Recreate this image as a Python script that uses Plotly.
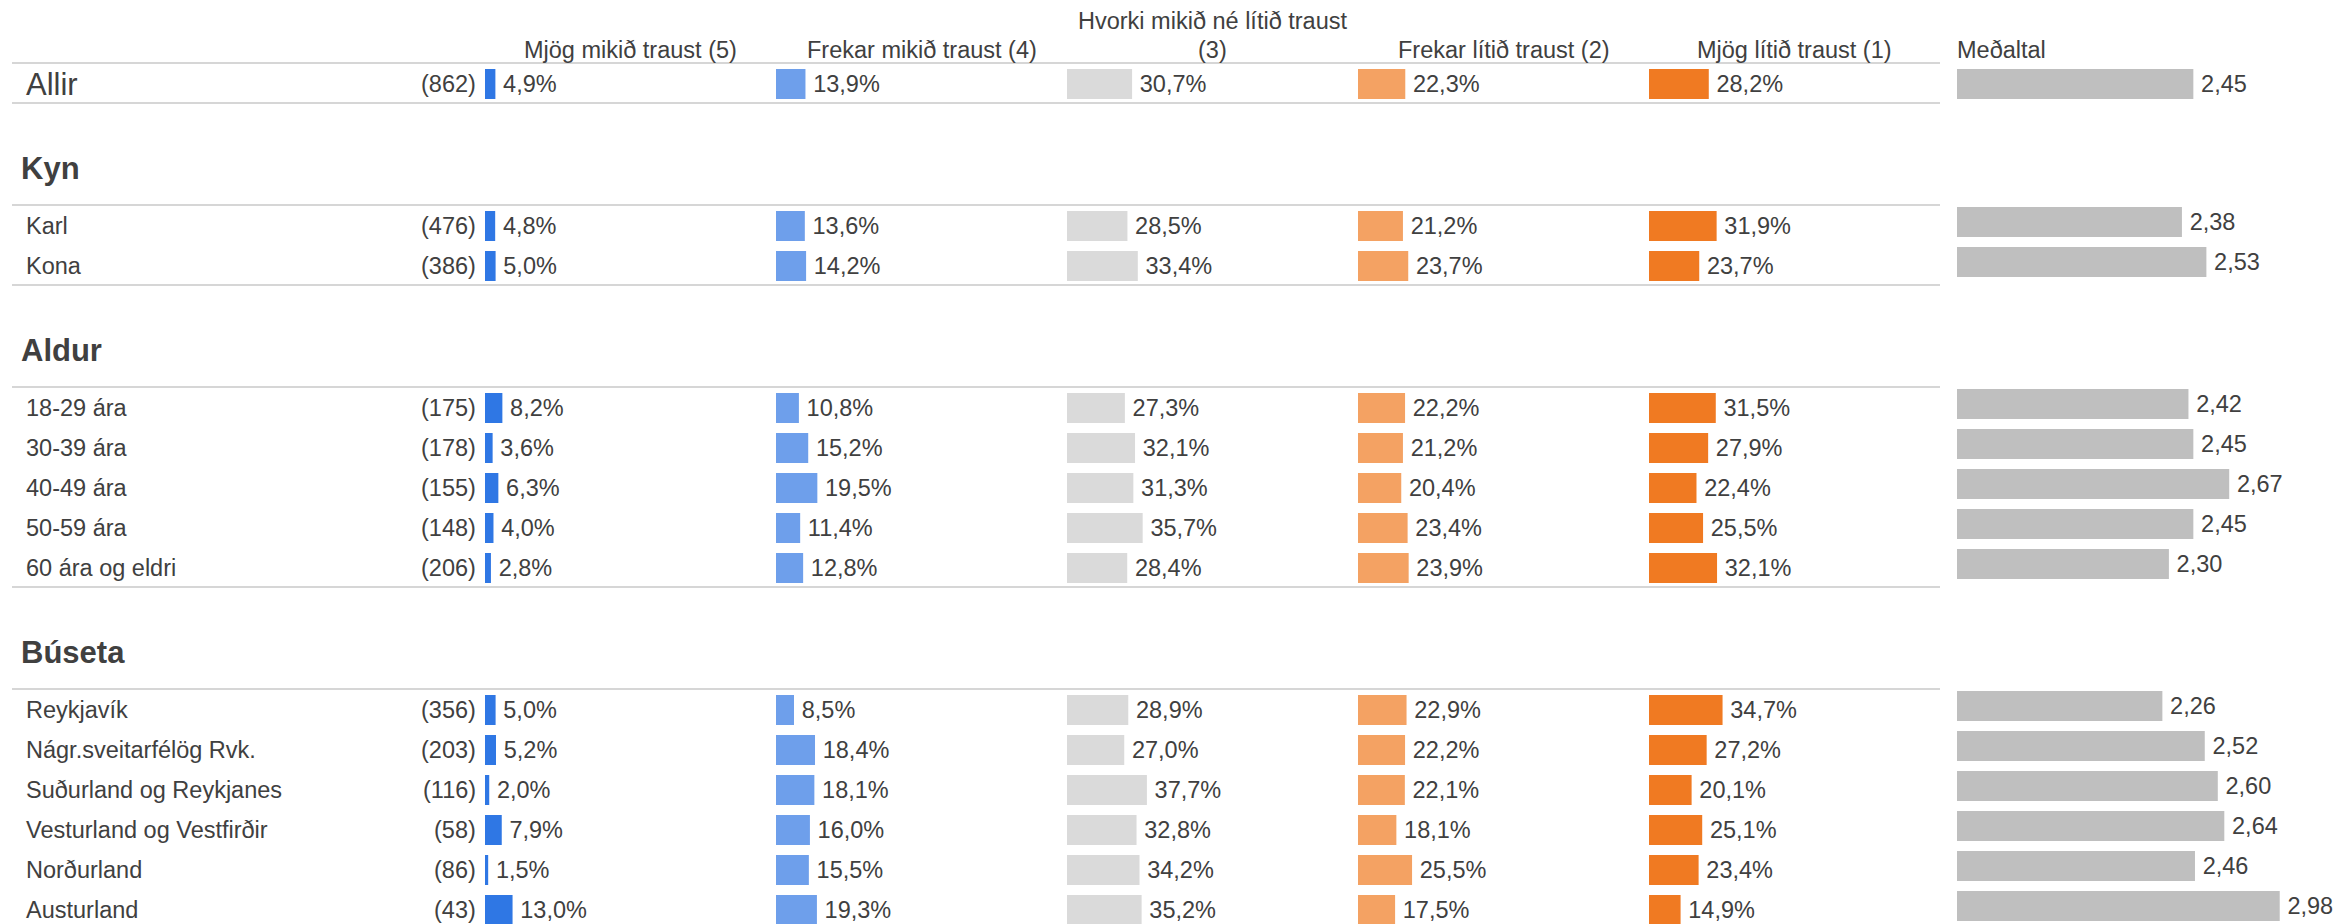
import plotly.graph_objects as go

# ---- data -------------------------------------------------------------
row_labels = ["Allir", "Karl", "Kona",
              "18-29 ára", "30-39 ára", "40-49 ára", "50-59 ára", "60 ára og eldri",
              "Reykjavík", "Nágr.sveitarfélög Rvk.", "Suðurland og Reykjanes",
              "Vesturland og Vestfirðir", "Norðurland", "Austurland"]
row_n = [862, 476, 386, 175, 178, 155, 148, 206, 356, 203, 116, 58, 86, 43]

group_names = ["Kyn", "Aldur", "Búseta"]
group_sizes = [2, 5, 6]

col_titles = ["Mjög mikið traust (5)", "Frekar mikið traust (4)",
              "Hvorki mikið né lítið traust<br>(3)", "Frekar lítið traust (2)",
              "Mjög lítið traust (1)"]
mean_title = "Meðaltal"

mjog_mikid = [4.9, 4.8, 5.0, 8.2, 3.6, 6.3, 4.0, 2.8, 5.0, 5.2, 2.0, 7.9, 1.5, 13.0]
frekar_mikid = [13.9, 13.6, 14.2, 10.8, 15.2, 19.5, 11.4, 12.8, 8.5, 18.4, 18.1, 16.0, 15.5, 19.3]
hvorki = [30.7, 28.5, 33.4, 27.3, 32.1, 31.3, 35.7, 28.4, 28.9, 27.0, 37.7, 32.8, 34.2, 35.2]
frekar_litid = [22.3, 21.2, 23.7, 22.2, 21.2, 20.4, 23.4, 23.9, 22.9, 22.2, 22.1, 18.1, 25.5, 17.5]
mjog_litid = [28.2, 31.9, 23.7, 31.5, 27.9, 22.4, 25.5, 32.1, 34.7, 27.2, 20.1, 25.1, 23.4, 14.9]
medaltal = [2.45, 2.38, 2.53, 2.42, 2.45, 2.67, 2.45, 2.30, 2.26, 2.52, 2.60, 2.64, 2.46, 2.98]

col_values = [mjog_mikid, frekar_mikid, hvorki, frekar_litid, mjog_litid]
col_colors = ["#2F77E4", "#6E9FEB", "#DADADA", "#F4A263", "#F07A22"]
mean_color = "#BFBFBF"

# ---- layout constants (pixels) ---------------------------------------
W, H = 2346, 924
FONT = "Liberation Sans, Arial, sans-serif"
TXT = "#404040"
LINE = "#D6D6D6"
FS = 23.5

col_x0 = 485
col_w = 291
px_per_pct = 2.12
mean_x0 = 1957
px_per_unit = 163
line_x0, line_x1 = 12, 1940


def px(x):
    return x / W


# vertical positions of rows, group titles and separator lines
row_y = [84]
title_y = []
lines_y = [63, 103]
prev_line = 103
for size in group_sizes:
    t = prev_line + 65
    title_y.append(t)
    top = t + 37
    lines_y.append(top)
    ys = [top + 21 + 40 * i for i in range(size)]
    row_y += ys
    prev_line = ys[-1] + 19
    lines_y.append(prev_line)

# mean bars sit a few px higher in the grouped rows
mean_y = [row_y[0]] + [y - 4 for y in row_y[1:]]

fig = go.Figure()

for k, (vals, color) in enumerate(zip(col_values, col_colors)):
    ax = "x" if k == 0 else "x%d" % (k + 1)
    fig.add_trace(go.Bar(
        x=vals, y=row_y, orientation="h", width=30, xaxis=ax, yaxis="y",
        marker=dict(color=color, line=dict(width=0)),
        text=["\u2009" + ("%.1f%%" % v).replace(".", ",") for v in vals],
        textposition="outside", constraintext="none", cliponaxis=False,
        textfont=dict(family=FONT, size=FS, color=TXT),
        outsidetextfont=dict(family=FONT, size=FS, color=TXT),
        hoverinfo="skip", showlegend=False,
    ))

fig.add_trace(go.Bar(
    x=[m - 1 for m in medaltal], base=1, y=mean_y, orientation="h", width=30,
    xaxis="x6", yaxis="y",
    marker=dict(color=mean_color, line=dict(width=0)),
    text=["\u2009" + ("%.2f" % m).replace(".", ",") for m in medaltal],
    textposition="outside", constraintext="none", cliponaxis=False,
    textfont=dict(family=FONT, size=FS, color=TXT),
    outsidetextfont=dict(family=FONT, size=FS, color=TXT),
    hoverinfo="skip", showlegend=False,
))

axes = {}
for k in range(5):
    name = "xaxis" if k == 0 else "xaxis%d" % (k + 1)
    axes[name] = dict(domain=[px(col_x0 + col_w * k), px(col_x0 + col_w * (k + 1))],
                      range=[0, col_w / px_per_pct], visible=False, fixedrange=True,
                      anchor="y")
axes["xaxis6"] = dict(domain=[px(mean_x0), 1], range=[1, 1 + (W - mean_x0) / px_per_unit],
                      visible=False, fixedrange=True, anchor="y")

annotations = []
# row labels and n
for i, (lab, n) in enumerate(zip(row_labels, row_n)):
    annotations.append(dict(x=px(26), y=row_y[i], xref="paper", yref="y", text=lab,
                            showarrow=False, xanchor="left", yanchor="middle",
                            font=dict(family=FONT, size=31 if i == 0 else FS, color=TXT)))
    annotations.append(dict(x=px(476), y=row_y[i], xref="paper", yref="y", text="(%d)" % n,
                            showarrow=False, xanchor="right", yanchor="middle",
                            font=dict(family=FONT, size=FS, color=TXT)))
# group titles
for name, ty in zip(group_names, title_y):
    annotations.append(dict(x=px(21), y=ty, xref="paper", yref="y", text="<b>%s</b>" % name,
                            showarrow=False, xanchor="left", yanchor="middle",
                            font=dict(family=FONT, size=31, color=TXT)))
# column headers (multi-line headers stacked upward from the last line)
for k, t in enumerate(col_titles):
    parts = t.split("<br>")
    for j, part in enumerate(reversed(parts)):
        annotations.append(dict(x=px(col_x0 + col_w * k + col_w / 2), y=50 - 29 * j,
                                xref="paper", yref="y", text=part, showarrow=False,
                                xanchor="center", yanchor="middle",
                                font=dict(family=FONT, size=FS, color=TXT)))
annotations.append(dict(x=px(mean_x0), y=50, xref="paper", yref="y", text=mean_title,
                        showarrow=False, xanchor="left", yanchor="middle",
                        font=dict(family=FONT, size=FS, color=TXT)))
for a in annotations:
    a["borderpad"] = 0
    a["borderwidth"] = 0

shapes = []
for ly in lines_y:
    shapes.append(dict(type="line", xref="paper", yref="y", x0=px(line_x0), x1=px(line_x1),
                       y0=ly, y1=ly, line=dict(color=LINE, width=2), layer="below"))

fig.update_layout(
    width=W, height=H,
    margin=dict(l=0, r=0, t=0, b=0),
    paper_bgcolor="white", plot_bgcolor="white",
    yaxis=dict(domain=[0, 1], range=[H, 0], autorange=False, visible=False, fixedrange=True),
    annotations=annotations, shapes=shapes,
    font=dict(family=FONT, size=FS, color=TXT),
    separators=",.",
    **axes,
)

# the page body has a default margin; drop it so the figure sits at the top-left corner
fig.write_html("out.html", config={"displayModeBar": False},
               post_script="document.body.style.margin='0';document.body.style.overflow='hidden';")
